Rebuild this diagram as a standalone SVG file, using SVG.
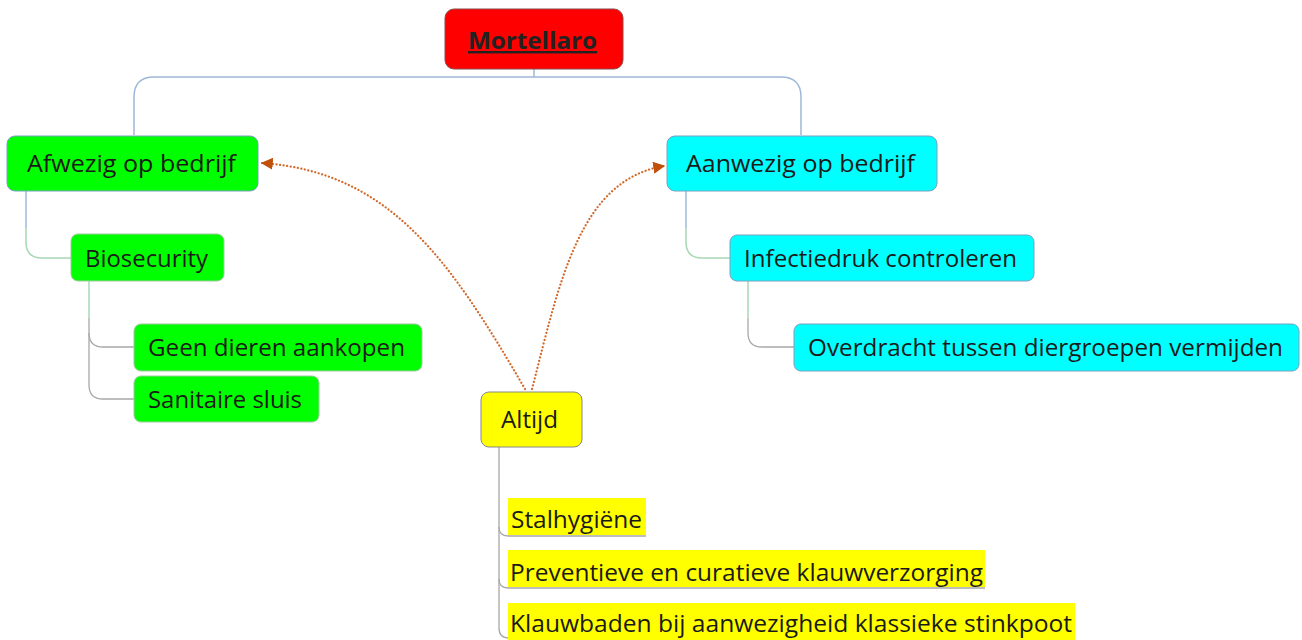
<svg xmlns="http://www.w3.org/2000/svg" width="1302" height="640" viewBox="0 0 1302 640">
<style>
  .t{font-family:"Open Sans","Noto Sans","Liberation Sans",sans-serif;font-size:24px;fill:#1a1a1a}
  .tb{font-family:"Open Sans","Noto Sans","Liberation Sans",sans-serif;font-size:24px;font-weight:bold;fill:#222;text-decoration:underline}
  .red{fill:#ff0000;stroke:#8a4a4a;stroke-width:1}
  .green{fill:#00ff00;stroke:#7aa0c0;stroke-width:1}
  .green2{fill:#00ff00;stroke:#a0c8a0;stroke-width:1}
  .cyan{fill:#00ffff;stroke:#7aa0c0;stroke-width:1}
  .yellow{fill:#ffff00;stroke:#888;stroke-width:1}
  .hl{fill:#ffff00}
  .cb{fill:none;stroke:#9fb8d8;stroke-width:1.5}
  .cg{fill:none;stroke:#a8d8b4;stroke-width:1.5}
  .cgr{fill:none;stroke:#a8a8a8;stroke-width:1.3}
  .dot{fill:none;stroke:#d2692a;stroke-width:2.2;stroke-dasharray:0.1 3.5;stroke-linecap:round}
</style>
<defs>
  <marker id="arr" viewBox="0 0 10 10" refX="9" refY="5" markerWidth="12" markerHeight="12" markerUnits="userSpaceOnUse" orient="auto">
    <path d="M0,0 L10,5 L0,10 z" fill="#c0500a"/>
  </marker>
</defs>
<g id="connectors">
  <path class="cb" d="M534 69 V77"/>
  <path class="cb" d="M134 135 V97 Q134 77 154 77 H781 Q801 77 801 97 V135"/>
  <path class="cb" d="M26 191 V228"/>
  <path class="cg" d="M26 228 V242 Q26 258 42 258 H71"/>
  <path class="cg" d="M89 281 V318"/>
  <path class="cgr" d="M89 318 V333 Q89 347 103 347 H134"/>
  <path class="cgr" d="M89 333 V385 Q89 399 103 399 H134"/>
  <path class="cb" d="M686 191 V228"/>
  <path class="cg" d="M686 228 V242 Q686 258 702 258 H730"/>
  <path class="cg" d="M748 281 V318"/>
  <path class="cgr" d="M748 318 V333 Q748 347 762 347 H794"/>
  <path class="cgr" d="M499 447 V628 Q499 638 509 638"/>
  <path class="cgr" d="M499 527 Q499 536 508 536 H646"/>
  <path class="cgr" d="M499 579 Q499 588 508 588 H985"/>
  <path class="dot" d="M525 389 C450 260 390 172 262 163" marker-end="url(#arr)"/>
  <path class="dot" d="M532 389 C560 280 580 180 664 166" marker-end="url(#arr)"/>
</g>
<g id="mortellaro">
  <rect class="red" x="445" y="9" width="178" height="60" rx="9"/>
  <text class="tb" x="468" y="49" textLength="129" lengthAdjust="spacingAndGlyphs">Mortellaro</text>
</g>
<g id="afwezig">
  <rect class="green" x="7" y="136" width="251" height="55" rx="8"/>
  <text class="t" x="27" y="172" textLength="209" lengthAdjust="spacingAndGlyphs">Afwezig op bedrijf</text>
</g>
<g id="biosecurity">
  <rect class="green2" x="71" y="234" width="153" height="47" rx="7"/>
  <text class="t" x="85" y="267" textLength="123" lengthAdjust="spacingAndGlyphs">Biosecurity</text>
</g>
<g id="geen-dieren">
  <rect class="green2" x="134" y="324" width="288" height="47" rx="7"/>
  <text class="t" x="148" y="356" textLength="257" lengthAdjust="spacingAndGlyphs">Geen dieren aankopen</text>
</g>
<g id="sanitaire">
  <rect class="green2" x="134" y="376" width="185" height="46" rx="7"/>
  <text class="t" x="148" y="408" textLength="154" lengthAdjust="spacingAndGlyphs">Sanitaire sluis</text>
</g>
<g id="aanwezig">
  <rect class="cyan" x="667" y="136" width="270" height="55" rx="8"/>
  <text class="t" x="686" y="172" textLength="229" lengthAdjust="spacingAndGlyphs">Aanwezig op bedrijf</text>
</g>
<g id="infectiedruk">
  <rect class="cyan" x="730" y="235" width="304" height="46" rx="7"/>
  <text class="t" x="744" y="267" textLength="273" lengthAdjust="spacingAndGlyphs">Infectiedruk controleren</text>
</g>
<g id="overdracht">
  <rect class="cyan" x="794" y="324" width="505" height="47" rx="7"/>
  <text class="t" x="808" y="356" textLength="475" lengthAdjust="spacingAndGlyphs">Overdracht tussen diergroepen vermijden</text>
</g>
<g id="altijd">
  <rect class="yellow" x="481" y="392" width="101" height="55" rx="8"/>
  <text class="t" x="501" y="428" textLength="57" lengthAdjust="spacingAndGlyphs">Altijd</text>
</g>
<g id="stalhygiene">
  <rect class="hl" x="508" y="498" width="138" height="37"/>
  <text class="t" x="511" y="528" textLength="131" lengthAdjust="spacingAndGlyphs">Stalhygiëne</text>
</g>
<g id="preventieve">
  <rect class="hl" x="508" y="550" width="477" height="37"/>
  <text class="t" x="510" y="581" textLength="473" lengthAdjust="spacingAndGlyphs">Preventieve en curatieve klauwverzorging</text>
</g>
<g id="klauwbaden">
  <rect class="hl" x="508" y="603" width="567" height="37"/>
  <text class="t" x="510" y="632" textLength="562" lengthAdjust="spacingAndGlyphs">Klauwbaden bij aanwezigheid klassieke stinkpoot</text>
</g>
</svg>
